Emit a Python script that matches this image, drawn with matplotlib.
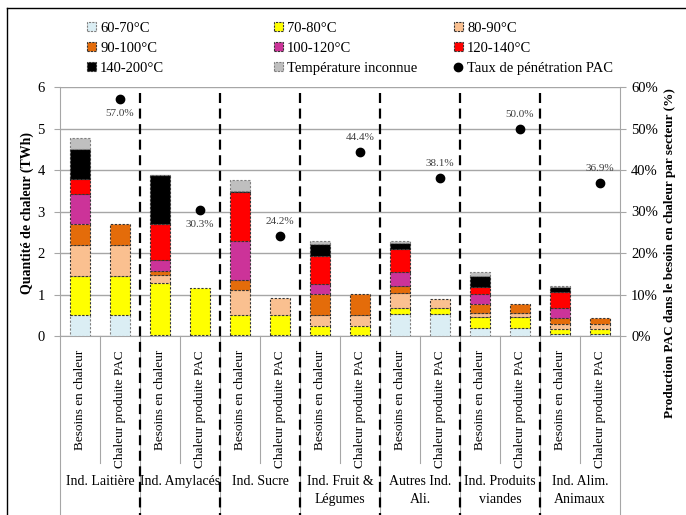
import numpy as np
import matplotlib.pyplot as plt
from matplotlib.patches import Patch
from matplotlib.lines import Line2D
from matplotlib.ticker import PercentFormatter

plt.rcParams['font.family'] = ['Liberation Serif', 'DejaVu Serif']

# secteurs et types de barres
secteurs = ["Ind. Laitière", "Ind. Amylacés", "Ind. Sucre", "Ind. Fruit &\nLégumes",
            "Autres Ind.\nAli.", "Ind. Produits\nviandes", "Ind. Alim.\nAnimaux"]
types_barre = ["Besoins en chaleur", "Chaleur produite PAC"]

# quantité de chaleur (TWh) par classe de température, une valeur par barre
# (besoin, PAC) pour chaque secteur
t60_70 = [0.51, 0.51, 0.03, 0.03, 0.03, 0.03, 0.03, 0.03, 0.54, 0.54, 0.20, 0.20, 0.06, 0.06]
t70_80 = [0.93, 0.93, 1.25, 1.13, 0.48, 0.48, 0.20, 0.20, 0.14, 0.13, 0.26, 0.26, 0.12, 0.12]
t80_90 = [0.75, 0.75, 0.20, 0.00, 0.59, 0.41, 0.27, 0.27, 0.36, 0.21, 0.10, 0.10, 0.10, 0.10]
t90_100 = [0.52, 0.52, 0.08, 0.00, 0.24, 0.00, 0.52, 0.52, 0.16, 0.00, 0.22, 0.22, 0.15, 0.15]
t100_120 = [0.70, 0.00, 0.28, 0.00, 0.95, 0.00, 0.24, 0.00, 0.35, 0.00, 0.24, 0.00, 0.24, 0.00]
t120_140 = [0.38, 0.00, 0.86, 0.00, 1.17, 0.00, 0.67, 0.00, 0.54, 0.00, 0.17, 0.00, 0.40, 0.00]
t140_200 = [0.72, 0.00, 1.17, 0.00, 0.04, 0.00, 0.29, 0.00, 0.14, 0.00, 0.25, 0.00, 0.12, 0.00]
t_inconnue = [0.26, 0.00, 0.01, 0.00, 0.27, 0.00, 0.07, 0.00, 0.06, 0.00, 0.10, 0.00, 0.02, 0.00]

# taux de pénétration PAC (%)
taux_pac = [57.0, 30.3, 24.2, 44.4, 38.1, 50.0, 36.9]
pos_etiquette = ["dessous", "dessous", "dessus", "dessus", "dessus", "dessus", "dessus"]

classes = ["60-70°C", "70-80°C", "80-90°C", "90-100°C", "100-120°C",
           "120-140°C", "140-200°C", "Température inconnue"]
series = [t60_70, t70_80, t80_90, t90_100, t100_120, t120_140, t140_200, t_inconnue]
couleurs = ["#DBEEF4", "#FFFF00", "#FAC090", "#E46C0A", "#CC3399", "#FF0000", "#000000", "#BFBFBF"]
bords = ["#7F7F7F", "#333333", "#333333", "#333333", "#333333", "#333333", "#333333", "#7F7F7F"]

W, H = 686, 515
fig = plt.figure(figsize=(W / 100, H / 100), dpi=100)
ax = fig.add_axes([60 / W, 1 - 336 / H, 560 / W, 249 / H])
ax2 = ax.twinx()

gris = "#A6A6A6"
x = np.arange(len(t60_70)) + 0.5
bas = np.zeros(len(x))
for vals, coul, bord in zip(series, couleurs, bords):
    vals = np.array(vals)
    m = vals > 0
    ax.bar(x[m], vals[m], width=0.5, bottom=bas[m], color=coul, edgecolor=bord,
           linewidth=0.8, linestyle=(0, (2, 1.5)), zorder=3)
    bas += vals

ax.set_xlim(0, 14)
ax.set_ylim(0, 6)
ax.set_xticks([])
ax.set_yticks(range(7))
ax.set_axisbelow(True)
ax.yaxis.grid(True, color=gris, lw=1)
ax.tick_params(axis='y', length=4, color=gris, pad=7, labelsize=10.5)
for s in ["top", "right"]:
    ax.spines[s].set_visible(False)
for s in ["left", "bottom"]:
    ax.spines[s].set_color(gris)

# taux de pénétration sur l'axe de droite
x_pac = x[1::2]
ax2.plot(x_pac, np.array(taux_pac) / 100, 'o', color='k', ms=6, zorder=5)
for xp, v, p in zip(x_pac, taux_pac, pos_etiquette):
    dy = -10 if p == "dessous" else 10
    ax2.annotate(f"{v:.1f}%", (xp, v / 100), xytext=(0, dy), textcoords='offset points',
                 ha='center', va='center', fontsize=8, color='#404040')
ax2.set_ylim(0, 0.6)
ax2.yaxis.set_major_formatter(PercentFormatter(1.0, decimals=0))
ax2.tick_params(axis='y', length=4, color=gris, pad=4, labelsize=10.5)
for s in ["top", "left", "bottom"]:
    ax2.spines[s].set_visible(False)
ax2.spines["right"].set_color(gris)

# tableau des étiquettes sous l'axe
tr = ax.get_xaxis_transform()
for k in range(15):
    y_bas = -0.72 if k % 2 == 0 else -0.51
    ax.plot([k, k], [0, y_bas], color=gris, lw=0.8, transform=tr, clip_on=False)
for k in range(2, 14, 2):
    ax.plot([k, k], [0.976, -0.72], color='k', lw=1.6, ls=(0, (4.5, 2.5)),
            transform=tr, clip_on=False, zorder=6)
for i, xi in enumerate(x):
    ax.text(xi, -0.056, types_barre[i % 2], rotation=90, ha='center', va='top',
            fontsize=9.5, transform=tr)
for g, nom in enumerate(secteurs):
    ax.text(2 * g + 1, -0.56, nom, ha='center', va='top', fontsize=10,
            linespacing=1.45, transform=tr)

fig.text(27 / W, 1 - 213 / H, "Quantité de chaleur (TWh)", rotation=90, ha='center',
         va='center', fontsize=10, fontweight='bold')
fig.text(670 / W, 1 - 253 / H, "Production PAC dans le besoin en chaleur par secteur (%)",
         rotation=90, ha='center', va='center', fontsize=9.5, fontweight='bold')

# légende en trois colonnes
poignees = [Patch(facecolor=c, edgecolor=b, linestyle=(0, (2, 1)), lw=0.8)
            for c, b in zip(couleurs, bords)]
poignees.append(Line2D([], [], marker='o', color='k', ls='none', ms=6))
noms = classes + ["Taux de pénétration PAC"]
for col, x0 in enumerate([87, 274, 454]):
    idx = [col, col + 3, col + 6]
    fig.legend([poignees[i] for i in idx], [noms[i] for i in idx], loc='upper left',
               bbox_to_anchor=(x0 / W, 1 - 22 / H), frameon=False, fontsize=10.5,
               borderpad=0, borderaxespad=0, handlelength=0.6, handleheight=0.6,
               handletextpad=0.3, labelspacing=0.48)

# cadre
fig.add_artist(Line2D([7 / W, 7 / W], [0, 1 - 8 / H], transform=fig.transFigure, color='k', lw=1))
fig.add_artist(Line2D([7 / W, 1], [1 - 8 / H, 1 - 8 / H], transform=fig.transFigure, color='k', lw=1))

fig.savefig("out.png", dpi=100)
